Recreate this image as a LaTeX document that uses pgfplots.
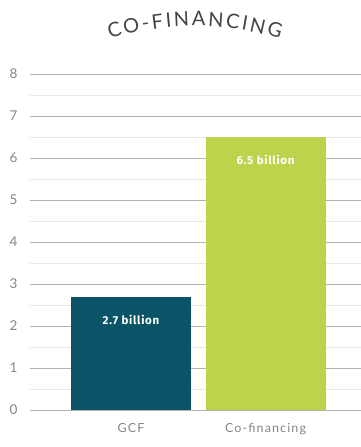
\documentclass[border=0pt]{standalone}
\usepackage{pgfplots}
\pgfplotsset{compat=1.18}
\usepackage{fontspec}
\setmainfont{Lato}
\newfontfamily\titlefont{Lato}
\newfontfamily\labfont[LetterSpace=9]{Lato}
\newfontfamily\barfont[LetterSpace=6]{Fira Sans}
\usetikzlibrary{decorations.text}
\definecolor{gcf}{HTML}{0B5468}
\definecolor{cofin}{HTML}{BCD34B}
\definecolor{txt}{HTML}{858585}
\definecolor{ttl}{HTML}{454545}
\newcommand\ttlfont{\titlefont\fontsize{20}{23}\selectfont}
\begin{document}
\begin{tikzpicture}[x=1pt,y=1pt]
\path[use as bounding box] (0,0) rectangle (361,447);
\begin{axis}[
  at={(30pt,37pt)}, anchor=south west,
  scale only axis, width=331pt, height=336pt,
  xmin=-0.751, xmax=1.71, ymin=0, ymax=8,
  axis line style={draw=none},
  ytick={0,...,8}, minor ytick={0.5,1.5,...,7.5},
  major tick length=0pt, minor tick length=0pt,
  ymajorgrids, yminorgrids,
  major grid style={draw=black!30, line width=0.9pt},
  minor grid style={draw=black!9, line width=0.9pt},
  xtick={0,1}, xticklabels={GCF, Co-financing},
  xticklabel style={font=\labfont\fontsize{12.5}{14}\selectfont, text=txt, yshift=-10pt},
  yticklabel style={font=\labfont\fontsize{13.5}{15}\selectfont, text=txt, xshift=-9pt},
  /pgf/number format/assume math mode=true,
  ybar, bar width=120pt, bar shift=0pt,
  point meta=explicit symbolic,
  nodes near coords,
  every node near coord/.append style={font=\barfont\bfseries\fontsize{11.5}{13}\selectfont, text=white, anchor=center, yshift=-23pt},
  clip=false,
]
\addplot[fill=gcf, draw=none] coordinates {(0,2.7) [2.7 billion]};
\addplot[fill=cofin, draw=none] coordinates {(1,6.5) [6.5 billion]};
\end{axis}
\path[decorate, decoration={text effects along path, text={CO-FINANCING}, text align=center,
  text effects/.cd, text along path,
  every character/.style={/tikz/font=\ttlfont, /tikz/text=ttl, /tikz/inner sep=0pt},
  character widths={/tikz/font=\ttlfont, /tikz/inner sep=0pt, /tikz/inner xsep=1.2pt}}]
  (195,135) ++(118:286) arc[start angle=118, end angle=62, radius=286];
\end{tikzpicture}
\end{document}
